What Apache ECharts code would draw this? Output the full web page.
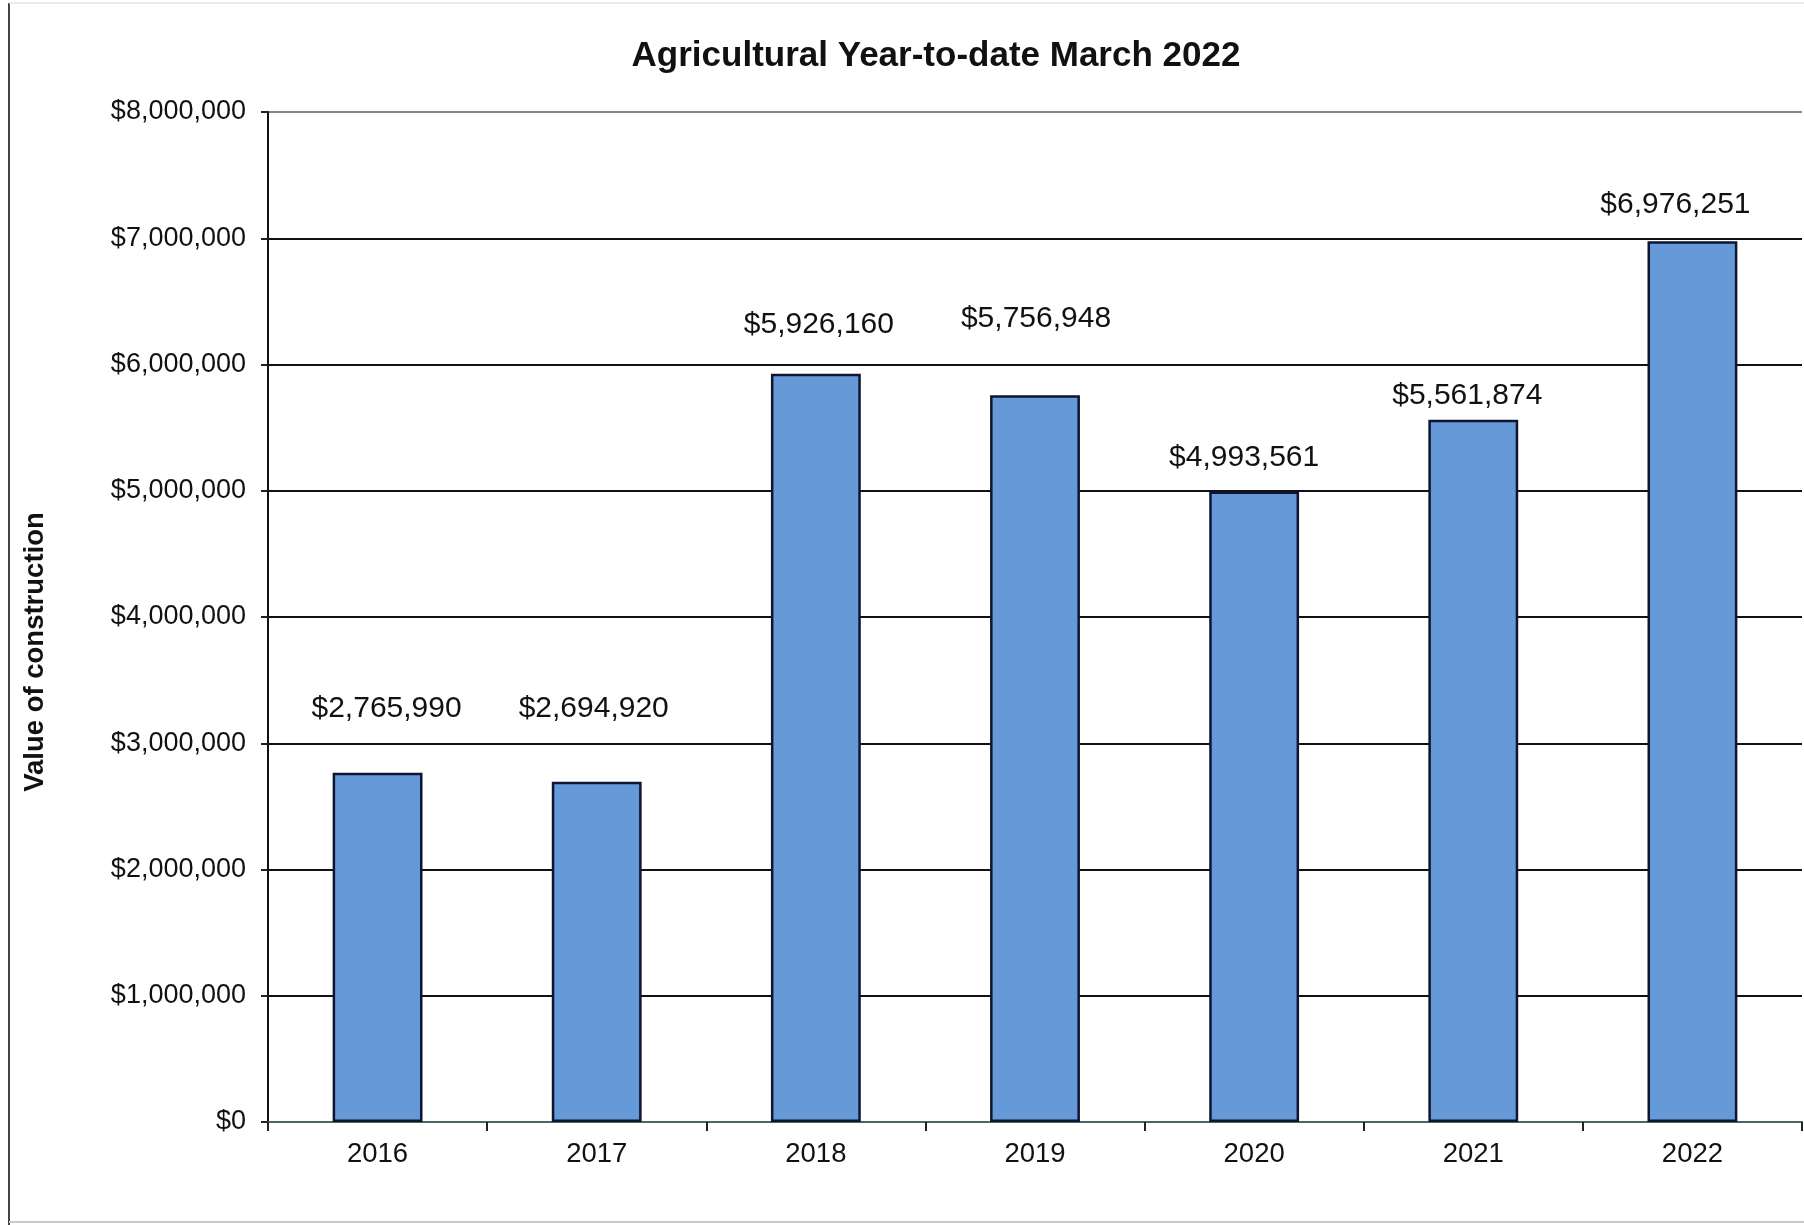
<!DOCTYPE html>
<html>
<head>
<meta charset="utf-8">
<style>
  html, body { margin: 0; padding: 0; background: #ffffff; }
  #chart { width: 1804px; height: 1225px; }
</style>
<script src="https://cdn.jsdelivr.net/npm/echarts@6/dist/echarts.min.js"></script>
</head>
<body>
<div id="chart"></div>
<script>
// ---- data ----
const chartTitle = 'Agricultural Year-to-date March 2022';
const yAxisTitle = 'Value of construction';
const categories = ['2016', '2017', '2018', '2019', '2020', '2021', '2022'];
const values = [2765990, 2694920, 5926160, 5756948, 4993561, 5561874, 6976251];
const yMin = 0;
const yMax = 8000000;
const yStep = 1000000;

// ---- styling (label nudges as in the reference) ----
const labelNudge = [[9, -49], [-3, -58], [3, -34], [1, -61], [-10, -19], [-6, -9], [-17, -22]];

const FONT = "'Liberation Sans', Arial, Helvetica, sans-serif";
const money = v => '$' + Math.round(v).toLocaleString('en-US');

const chart = echarts.init(document.getElementById('chart'), null, { renderer: 'canvas' });

const gridColors = ['#5a6e66', '#111', '#111', '#111', '#111', '#111', '#111', '#111', '#7a8a88'];

chart.setOption({
  backgroundColor: '#ffffff',
  animation: false,
  title: {
    text: chartTitle,
    left: 931,
    top: 34,
    textAlign: 'center',
    textStyle: { fontFamily: FONT, fontSize: 35, fontWeight: 'bold', color: '#111' }
  },
  grid: { left: 268, right: 2, top: 112, bottom: 103, containLabel: false },
  xAxis: {
    type: 'category',
    data: categories,
    boundaryGap: true,
    axisLine: { show: true, lineStyle: { color: '#4d6660', width: 2 } },
    axisTick: { show: true, alignWithLabel: false, length: 9, lineStyle: { color: '#222', width: 2 } },
    axisLabel: { margin: 18, fontFamily: FONT, fontSize: 27.5, color: '#111' },
    splitLine: { show: false }
  },
  yAxis: {
    type: 'value',
    min: yMin,
    max: yMax,
    interval: yStep,
    axisLine: { show: true, lineStyle: { color: '#111', width: 2 } },
    axisTick: { show: true, length: 7, lineStyle: { color: '#222', width: 2 } },
    axisLabel: { margin: 22, fontFamily: FONT, fontSize: 27, color: '#111', formatter: v => money(v) },
    splitLine: { show: true, lineStyle: { color: gridColors, width: 2 } }
  },
  series: [{
    type: 'bar',
    data: values.map((v, i) => ({ value: v, label: { offset: labelNudge[i] } })),
    barWidth: '41%',
    itemStyle: { color: '#6699d8', borderColor: '#0d1530', borderWidth: 2.5 },
    label: {
      show: true,
      position: 'top',
      distance: 0,
      fontFamily: FONT,
      fontSize: 30,
      color: '#111',
      formatter: p => money(p.value)
    }
  }],
  graphic: [
    { type: 'line', shape: { x1: 9, y1: 3, x2: 9, y2: 1225 }, style: { stroke: '#444', lineWidth: 2 }, silent: true },
    { type: 'line', shape: { x1: 9, y1: 3, x2: 1804, y2: 3 }, style: { stroke: '#e2e2e2', lineWidth: 1.5 }, silent: true },
    { type: 'line', shape: { x1: 9, y1: 1222, x2: 1804, y2: 1222 }, style: { stroke: '#c8c8c8', lineWidth: 2 }, silent: true },
    {
      type: 'text',
      x: 35,
      y: 652,
      rotation: Math.PI / 2,
      style: {
        text: yAxisTitle,
        font: "bold 27.5px " + FONT,
        fill: '#111',
        align: 'center',
        verticalAlign: 'middle',
        textAlign: 'center',
        textVerticalAlign: 'middle'
      }
    }
  ]
});
</script>
</body>
</html>
